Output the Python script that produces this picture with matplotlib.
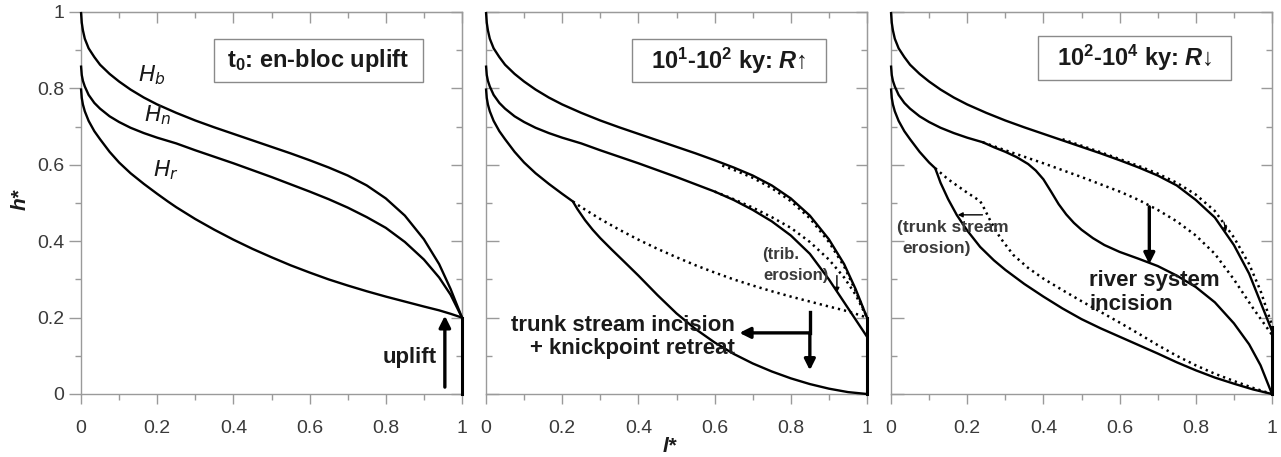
import matplotlib
matplotlib.use("Agg")
import matplotlib.pyplot as plt
from matplotlib.patches import Rectangle

plt.rcParams['font.family'] = ['Liberation Sans', 'DejaVu Sans']
plt.rcParams['mathtext.fontset'] = 'custom'
plt.rcParams['mathtext.rm'] = 'Liberation Sans:bold'
plt.rcParams['mathtext.it'] = 'Liberation Sans:italic:bold'
plt.rcParams['mathtext.bf'] = 'Liberation Sans:bold'

# ---------------- data ----------------
# panel 1 (t0) profiles: basin (Hb), network (Hn), river (Hr)
hb_l = [0, 0.002, 0.005, 0.01, 0.02, 0.035, 0.05, 0.075, 0.1, 0.13, 0.165, 0.2, 0.25, 0.3, 0.35, 0.4,
        0.45, 0.5, 0.55, 0.6, 0.65, 0.7, 0.75, 0.8, 0.85, 0.9, 0.94, 0.97, 1.0]
hb_h = [1.0, 0.972, 0.952, 0.93, 0.905, 0.882, 0.862, 0.838, 0.818, 0.797, 0.776, 0.758, 0.736, 0.716,
        0.698, 0.681, 0.664, 0.647, 0.63, 0.612, 0.593, 0.572, 0.546, 0.512, 0.467, 0.405, 0.34, 0.275, 0.2]
hn_l = [0, 0.002, 0.005, 0.01, 0.02, 0.035, 0.05, 0.075, 0.1, 0.13, 0.165, 0.2, 0.25, 0.3, 0.35, 0.4,
        0.45, 0.5, 0.55, 0.6, 0.65, 0.7, 0.75, 0.8, 0.85, 0.9, 0.94, 0.97, 1.0]
hn_h = [0.86, 0.835, 0.82, 0.805, 0.783, 0.762, 0.747, 0.727, 0.712, 0.697, 0.683, 0.671, 0.656, 0.638,
        0.621, 0.604, 0.586, 0.568, 0.549, 0.53, 0.51, 0.488, 0.463, 0.435, 0.398, 0.352, 0.305, 0.26, 0.2]
hr_l = [0, 0.002, 0.005, 0.01, 0.02, 0.035, 0.05, 0.075, 0.1, 0.13, 0.165, 0.2, 0.228, 0.25, 0.3, 0.35,
        0.4, 0.45, 0.5, 0.55, 0.6, 0.65, 0.7, 0.75, 0.8, 0.85, 0.9, 0.94, 0.97, 1.0]
hr_h = [0.8, 0.775, 0.758, 0.74, 0.715, 0.688, 0.667, 0.634, 0.606, 0.578, 0.55, 0.524, 0.504, 0.489,
        0.458, 0.43, 0.404, 0.38, 0.358, 0.337, 0.318, 0.3, 0.284, 0.269, 0.255, 0.242, 0.229, 0.219,
        0.21, 0.2]

# panel 2 (10^1-10^2 ky): lowered profiles (solid) and former ones (dotted)
p2_hb_dot_l = [0.62, 0.65, 0.7, 0.75, 0.8, 0.85, 0.9, 0.94, 0.97, 1.0]
p2_hb_dot_h = [0.598, 0.587, 0.566, 0.539, 0.505, 0.46, 0.398, 0.334, 0.27, 0.2]
p2_hn_l = [0, 0.002, 0.005, 0.01, 0.02, 0.035, 0.05, 0.075, 0.1, 0.13, 0.165, 0.2, 0.25, 0.3, 0.35, 0.4,
           0.45, 0.5, 0.55, 0.6, 0.65, 0.7, 0.75, 0.8, 0.85, 0.9, 0.95, 1.0]
p2_hn_h = [0.86, 0.835, 0.82, 0.805, 0.783, 0.762, 0.747, 0.727, 0.712, 0.697, 0.683, 0.671, 0.656,
           0.638, 0.621, 0.604, 0.586, 0.568, 0.549, 0.53, 0.508, 0.482, 0.452, 0.415, 0.367, 0.3,
           0.225, 0.15]
p2_hn_dot_l = [0.6, 0.65, 0.7, 0.75, 0.8, 0.85, 0.9, 0.94, 0.97, 1.0]
p2_hn_dot_h = [0.53, 0.51, 0.488, 0.463, 0.435, 0.398, 0.352, 0.305, 0.26, 0.2]
p2_hr_l = [0, 0.002, 0.005, 0.01, 0.02, 0.035, 0.05, 0.075, 0.1, 0.13, 0.165, 0.2, 0.228, 0.24, 0.26,
           0.28, 0.3, 0.33, 0.36, 0.4, 0.45, 0.5, 0.55, 0.6, 0.65, 0.7, 0.75, 0.8, 0.85, 0.9, 0.95, 1.0]
p2_hr_h = [0.8, 0.775, 0.758, 0.74, 0.715, 0.688, 0.667, 0.634, 0.606, 0.578, 0.55, 0.524, 0.504, 0.484,
           0.455, 0.43, 0.408, 0.378, 0.349, 0.31, 0.259, 0.211, 0.17, 0.135, 0.105, 0.08, 0.059,
           0.041, 0.026, 0.014, 0.005, 0.0]
p2_hr_dot_l = [0.228, 0.25, 0.3, 0.35, 0.4, 0.45, 0.5, 0.55, 0.6, 0.65, 0.7, 0.75, 0.8, 0.85, 0.9,
               0.94, 0.97, 1.0]
p2_hr_dot_h = [0.504, 0.489, 0.458, 0.43, 0.404, 0.38, 0.358, 0.337, 0.318, 0.3, 0.284, 0.269, 0.255,
               0.242, 0.229, 0.219, 0.21, 0.2]

# panel 3 (10^2-10^4 ky)
p3_hb_l = [0, 0.002, 0.005, 0.01, 0.02, 0.035, 0.05, 0.075, 0.1, 0.13, 0.165, 0.2, 0.25, 0.3, 0.35, 0.4,
           0.45, 0.5, 0.55, 0.6, 0.65, 0.7, 0.75, 0.8, 0.85, 0.9, 0.94, 0.97, 1.0]
p3_hb_h = [1.0, 0.972, 0.952, 0.93, 0.905, 0.882, 0.862, 0.838, 0.818, 0.797, 0.776, 0.758, 0.736,
           0.716, 0.698, 0.681, 0.664, 0.647, 0.63, 0.612, 0.593, 0.572, 0.546, 0.508, 0.462, 0.39,
           0.315, 0.24, 0.165]
p3_hb_dot_l = [0.45, 0.5, 0.55, 0.6, 0.65, 0.7, 0.75, 0.8, 0.85, 0.9, 0.94, 0.97, 1.0]
p3_hb_dot_h = [0.667, 0.65, 0.633, 0.615, 0.597, 0.577, 0.553, 0.522, 0.479, 0.41, 0.34, 0.27, 0.18]
p3_hn_l = [0, 0.002, 0.005, 0.01, 0.02, 0.035, 0.05, 0.075, 0.1, 0.13, 0.165, 0.2, 0.241, 0.27, 0.3,
           0.33, 0.36, 0.38, 0.4, 0.42, 0.44, 0.46, 0.48, 0.5, 0.53, 0.56, 0.6, 0.65, 0.7, 0.75, 0.8,
           0.85, 0.9, 0.94, 0.97, 1.0]
p3_hn_h = [0.86, 0.835, 0.82, 0.805, 0.783, 0.762, 0.747, 0.727, 0.712, 0.697, 0.683, 0.671, 0.659,
           0.646, 0.634, 0.62, 0.602, 0.585, 0.562, 0.53, 0.497, 0.47, 0.448, 0.43, 0.408, 0.39, 0.372,
           0.354, 0.335, 0.31, 0.28, 0.24, 0.185, 0.13, 0.075, 0.0]
p3_hn_dot_l = [0.241, 0.3, 0.35, 0.4, 0.45, 0.5, 0.55, 0.6, 0.65, 0.7, 0.75, 0.8, 0.85, 0.9, 0.95, 1.0]
p3_hn_dot_h = [0.659, 0.638, 0.621, 0.604, 0.586, 0.568, 0.549, 0.53, 0.508, 0.482, 0.452, 0.415,
               0.367, 0.3, 0.225, 0.155]
p3_hr_l = [0, 0.002, 0.005, 0.01, 0.02, 0.035, 0.05, 0.075, 0.1, 0.116, 0.122, 0.13, 0.15, 0.173, 0.2,
           0.234, 0.27, 0.3, 0.35, 0.4, 0.45, 0.5, 0.55, 0.6, 0.65, 0.7, 0.75, 0.8, 0.85, 0.9, 0.95, 1.0]
p3_hr_h = [0.8, 0.775, 0.758, 0.74, 0.715, 0.688, 0.667, 0.634, 0.606, 0.591, 0.575, 0.553, 0.51, 0.468,
           0.428, 0.385, 0.35, 0.325, 0.288, 0.255, 0.224, 0.196, 0.172, 0.15, 0.128, 0.106, 0.083,
           0.062, 0.043, 0.027, 0.012, 0.0]
p3_hr_dot_l = [0.116, 0.15, 0.2, 0.234, 0.245, 0.26, 0.286, 0.321, 0.36, 0.4, 0.45, 0.5, 0.55, 0.6,
               0.65, 0.7, 0.75, 0.8, 0.85, 0.9, 0.95, 1.0]
p3_hr_dot_h = [0.591, 0.562, 0.527, 0.505, 0.485, 0.455, 0.41, 0.364, 0.33, 0.302, 0.272, 0.243, 0.215,
               0.187, 0.158, 0.128, 0.1, 0.075, 0.053, 0.034, 0.016, 0.0]

outlet_top = [0.2, 0.2, 0.175]   # vertical outlet segment at l*=1 per panel
box_titles = [r't$_{0}$: en-bloc uplift',
              r'10$^{1}$-10$^{2}$ ky: $R$↑',
              r'10$^{2}$-10$^{4}$ ky: $R$↓']
xtick_vals = [0, 0.2, 0.4, 0.6, 0.8, 1.0]
xtick_labels = ['0', '0.2', '0.4', '0.6', '0.8', '1']
ytick_vals = [0, 0.2, 0.4, 0.6, 0.8, 1.0]
ytick_labels = ['0', '0.2', '0.4', '0.6', '0.8', '1']
minor_vals = [0.1, 0.3, 0.5, 0.7, 0.9]

# ---------------- figure ----------------
W, H = 1281, 457
fig = plt.figure(figsize=(W / 100, H / 100), dpi=100)
lefts = [81, 486, 891]
axw, axh = 381, 382
bottom = H - 394

SPINE = '#9a9a9a'
TXT = '#3a3a3a'
LW = 1.7
DOT = dict(color='black', lw=1.8, linestyle=(0, (0.9, 1.6)))

axes = []
for i, lx in enumerate(lefts):
    ax = fig.add_axes([lx / W, bottom / H, axw / W, axh / H])
    ax.set_xlim(0, 1)
    ax.set_ylim(0, 1)
    for s in ax.spines.values():
        s.set_color(SPINE)
        s.set_linewidth(1.0)
    ax.set_xticks(xtick_vals)
    ax.set_xticklabels(xtick_labels)
    ax.set_xticks(minor_vals, minor=True)
    ax.set_yticks(ytick_vals)
    ax.set_yticks(minor_vals, minor=True)
    if i == 0:
        ax.set_yticklabels(ytick_labels)
        ydir = 'out'
    else:
        ax.set_yticklabels([])
        ydir = 'in'
    ax.tick_params(axis='x', which='major', direction='out', length=7, width=1,
                   color=SPINE, labelsize=14, labelcolor=TXT, pad=12)
    ax.tick_params(axis='x', which='minor', direction='out', length=4, width=1, color=SPINE)
    ax.tick_params(axis='y', which='major', direction=ydir, length=9, width=1,
                   color=SPINE, labelsize=14, labelcolor=TXT, pad=3)
    ax.tick_params(axis='y', which='minor', direction=ydir, length=4.5, width=1, color=SPINE)
    sx = ax.secondary_xaxis('top')
    sx.set_xticks(xtick_vals)
    sx.set_xticks(minor_vals, minor=True)
    sx.tick_params(axis='x', which='major', direction='in', length=8, width=1, color=SPINE, labeltop=False)
    sx.tick_params(axis='x', which='minor', direction='in', length=4, width=1, color=SPINE)
    sx.spines['top'].set_color(SPINE)
    sy = ax.secondary_yaxis('right')
    sy.set_yticks(ytick_vals)
    sy.set_yticks(minor_vals, minor=True)
    sy.tick_params(axis='y', which='major', direction='in', length=8, width=1, color=SPINE, labelright=False)
    sy.tick_params(axis='y', which='minor', direction='in', length=4, width=1, color=SPINE)
    sy.spines['right'].set_color(SPINE)
    axes.append(ax)

def solid(ax, l, h):
    ax.plot(l, h, color='black', lw=LW, solid_capstyle='butt', solid_joinstyle='round',
            clip_on=False, zorder=3)

def dotted(ax, l, h):
    ax.plot(l, h, clip_on=False, zorder=3, **DOT)

def arrow(ax, start, end, lw=2.2, ms=16, head='-|>'):
    ax.annotate('', xy=end, xytext=start,
                arrowprops=dict(arrowstyle=head, lw=lw, color='black',
                                mutation_scale=ms, shrinkA=0, shrinkB=0), zorder=4)

def title_box(ax, cx, cy, w, h, txt):
    ax.add_patch(Rectangle((cx - w / 2, cy - h / 2), w, h, fc='white', ec='#8a8a8a',
                           lw=1.0, zorder=5))
    ax.text(cx, cy, txt, ha='center', va='center', fontsize=17, fontweight='bold',
            color='#1a1a1a', zorder=6)

# ---- panel 1 ----
ax = axes[0]
solid(ax, hb_l, hb_h)
solid(ax, hn_l, hn_h)
solid(ax, hr_l, hr_h)
ax.plot([1, 1], [0, outlet_top[0]], color='black', lw=2.2, clip_on=False, zorder=3)
ax.text(0.15, 0.835, '$H_b$', fontsize=16, color='#1a1a1a', ha='left', va='center',
        math_fontfamily='dejavusans')
ax.text(0.165, 0.73, '$H_n$', fontsize=16, color='#1a1a1a', ha='left', va='center',
        math_fontfamily='dejavusans')
ax.text(0.19, 0.585, '$H_r$', fontsize=16, color='#1a1a1a', ha='left', va='center',
        math_fontfamily='dejavusans')
arrow(ax, (0.955, 0.018), (0.955, 0.205), lw=2.4, ms=17)
ax.text(0.935, 0.095, 'uplift', fontsize=16, fontweight='bold', color='#1a1a1a',
        ha='right', va='center')
title_box(ax, 0.623, 0.873, 0.549, 0.113, box_titles[0])

# ---- panel 2 ----
ax = axes[1]
solid(ax, hb_l, hb_h)
dotted(ax, p2_hb_dot_l, p2_hb_dot_h)
solid(ax, p2_hn_l, p2_hn_h)
dotted(ax, p2_hn_dot_l, p2_hn_dot_h)
solid(ax, p2_hr_l, p2_hr_h)
dotted(ax, p2_hr_dot_l, p2_hr_dot_h)
ax.plot([1, 1], [0, outlet_top[1]], color='black', lw=2.2, clip_on=False, zorder=3)
ax.text(0.654, 0.18, 'trunk stream incision', fontsize=16, fontweight='bold',
        color='#1a1a1a', ha='right', va='center')
ax.text(0.654, 0.12, '+ knickpoint retreat', fontsize=16, fontweight='bold',
        color='#1a1a1a', ha='right', va='center')
ax.plot([0.85, 0.85], [0.215, 0.16], color='black', lw=2.4, zorder=4)
arrow(ax, (0.85, 0.16), (0.85, 0.062), lw=2.4, ms=16)
arrow(ax, (0.85, 0.16), (0.665, 0.16), lw=2.4, ms=16)
ax.text(0.725, 0.365, '(trib.', fontsize=12, fontweight='bold', color=TXT,
        ha='left', va='center')
ax.text(0.727, 0.31, 'erosion)', fontsize=12, fontweight='bold', color=TXT,
        ha='left', va='center')
arrow(ax, (0.921, 0.31), (0.921, 0.265), lw=1.0, ms=7)
title_box(ax, 0.638, 0.873, 0.509, 0.113, box_titles[1])

# ---- panel 3 ----
ax = axes[2]
solid(ax, p3_hb_l, p3_hb_h)
dotted(ax, p3_hb_dot_l, p3_hb_dot_h)
solid(ax, p3_hn_l, p3_hn_h)
dotted(ax, p3_hn_dot_l, p3_hn_dot_h)
solid(ax, p3_hr_l, p3_hr_h)
dotted(ax, p3_hr_dot_l, p3_hr_dot_h)
ax.plot([1, 1], [0, outlet_top[2]], color='black', lw=2.2, clip_on=False, zorder=3)
ax.text(0.016, 0.437, '(trunk stream', fontsize=12.5, fontweight='bold', color=TXT,
        ha='left', va='center')
ax.text(0.03, 0.38, 'erosion)', fontsize=12.5, fontweight='bold', color=TXT,
        ha='left', va='center')
arrow(ax, (0.24, 0.469), (0.175, 0.469), lw=1.0, ms=7)
arrow(ax, (0.678, 0.49), (0.678, 0.34), lw=2.4, ms=16)
ax.text(0.52, 0.298, 'river system', fontsize=16, fontweight='bold', color='#1a1a1a',
        ha='left', va='center')
ax.text(0.52, 0.233, 'incision', fontsize=16, fontweight='bold', color='#1a1a1a',
        ha='left', va='center')
arrow(ax, (0.874, 0.45), (0.879, 0.425), lw=0.9, ms=5)
title_box(ax, 0.639, 0.88, 0.507, 0.115, box_titles[2])

# axis labels
fig.text(670 / W, 1 - 447 / H, 'l*', fontsize=15, fontweight='bold', fontstyle='italic',
         color='#1a1a1a', ha='center', va='center')
fig.text(20 / W, 1 - 200 / H, 'h*', fontsize=15, fontweight='bold', fontstyle='italic',
         color='#1a1a1a', ha='center', va='center', rotation=90)

fig.savefig('out.png', dpi=100, facecolor='white')
